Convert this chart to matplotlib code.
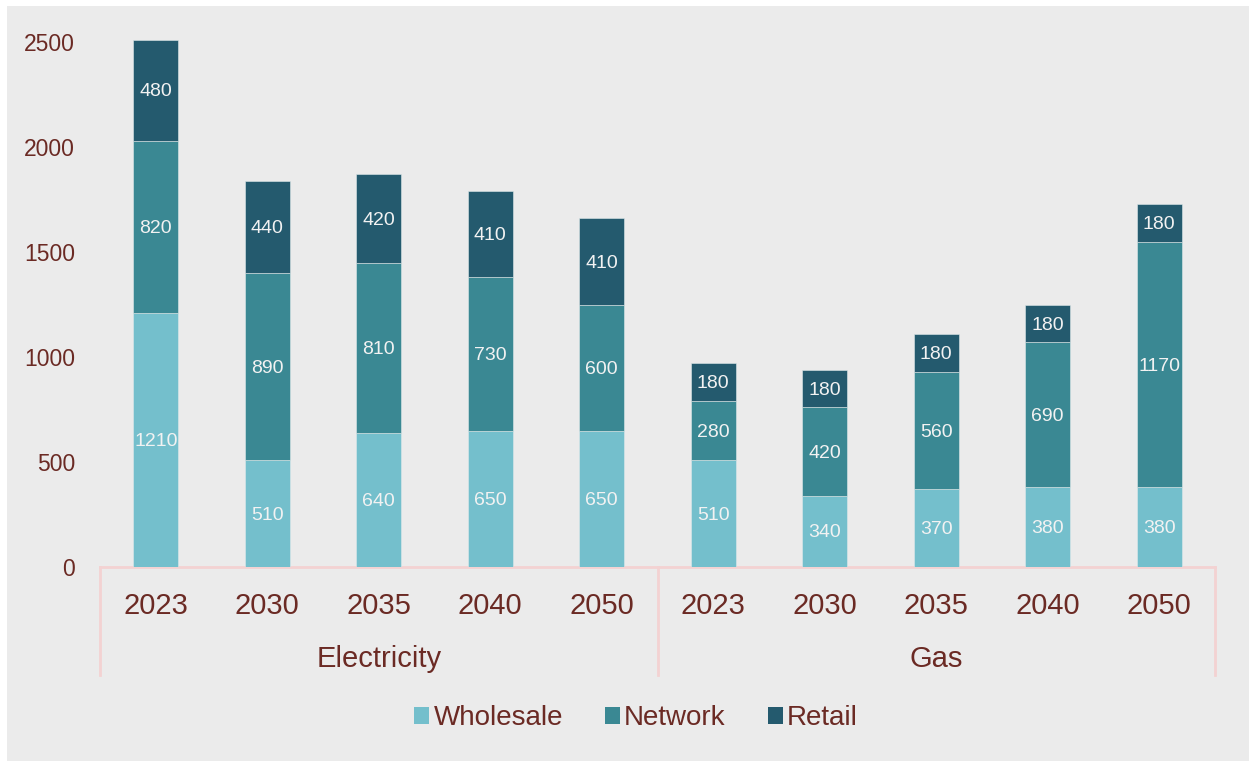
import matplotlib.pyplot as plt
import matplotlib.transforms as mtransforms
from matplotlib.patches import Patch, Rectangle

plt.rcParams['font.family'] = ['Liberation Sans', 'DejaVu Sans']

groups = ['Electricity', 'Gas']
years = ['2023', '2030', '2035', '2040', '2050']

wholesale = [1210, 510, 640, 650, 650, 510, 340, 370, 380, 380]
network = [820, 890, 810, 730, 600, 280, 420, 560, 690, 1170]
retail = [480, 440, 420, 410, 410, 180, 180, 180, 180, 180]

series = ['Wholesale', 'Network', 'Retail']
colors = ['#74bfcc', '#3a8893', '#245a6e']
text_col = '#6b2a24'
line_col = '#f3d2d2'
bg = '#ebebeb'

W, H = 1249, 761
fig = plt.figure(figsize=(W / 100, H / 100), dpi=100, facecolor='white')
# grey panel behind everything
fig.add_artist(Rectangle((7 / W, 0), (W - 7) / W, (H - 6) / H,
                         transform=fig.transFigure, facecolor=bg,
                         edgecolor='none', zorder=-10))

ax_top, ax_bot = 21, 567
ax = fig.add_axes([100 / W, (H - ax_bot) / H, 1115 / W, (ax_bot - ax_top) / H])
ax.set_facecolor(bg)
ax.patch.set_alpha(0)

x = list(range(len(wholesale)))
bottom = [0] * len(x)
for name, vals, c in zip(series, [wholesale, network, retail], colors):
    bars = ax.bar(x, vals, 0.405, bottom=bottom, color=c, label=name,
                  edgecolor='#dfe9ea', linewidth=0.4, zorder=2)
    for xi, v, b in zip(x, vals, bottom):
        ax.text(xi, b + v / 2 - 8, str(v), ha='center', va='center',
                color='#f2f2f2', fontsize=14, zorder=3)
    bottom = [b + v for b, v in zip(bottom, vals)]

ax.set_xlim(-0.5, len(x) - 0.5)
ax.set_ylim(0, 2600)
ax.set_yticks([0, 500, 1000, 1500, 2000, 2500])
ax.tick_params(axis='y', length=0, pad=18, labelsize=16.5, labelcolor=text_col)
ax.set_xticks([])
for s in ax.spines.values():
    s.set_visible(False)

# two-level category axis
h_px = ax_bot - ax_top
trans = mtransforms.blended_transform_factory(ax.transData, ax.transAxes)
ax.plot([-0.5, 9.5], [0, 0], color=line_col, lw=2, transform=trans,
        clip_on=False, zorder=1)
for xv in [-0.5, 4.5, 9.5]:
    ax.plot([xv, xv], [0, -108 / h_px], color=line_col, lw=2,
            transform=trans, clip_on=False)
for i, xi in enumerate(x):
    ax.text(xi, -39 / h_px, years[i % 5], transform=trans, ha='center',
            va='center', fontsize=21, color=text_col)
for g, gi in enumerate(groups):
    ax.text(2 + 5 * g, -92 / h_px, gi, transform=trans, ha='center',
            va='center', fontsize=21, color=text_col)

handles = [Patch(facecolor=c, edgecolor='none') for c in colors]
fig.legend(handles, series, loc='center', bbox_to_anchor=(636 / W, 1 - 718 / H),
           ncol=3, frameon=False, fontsize=20, labelcolor=text_col,
           handlelength=0.55, handleheight=0.55, handletextpad=0.15,
           columnspacing=1.5)

fig.savefig('out.png', dpi=100, facecolor='white')
